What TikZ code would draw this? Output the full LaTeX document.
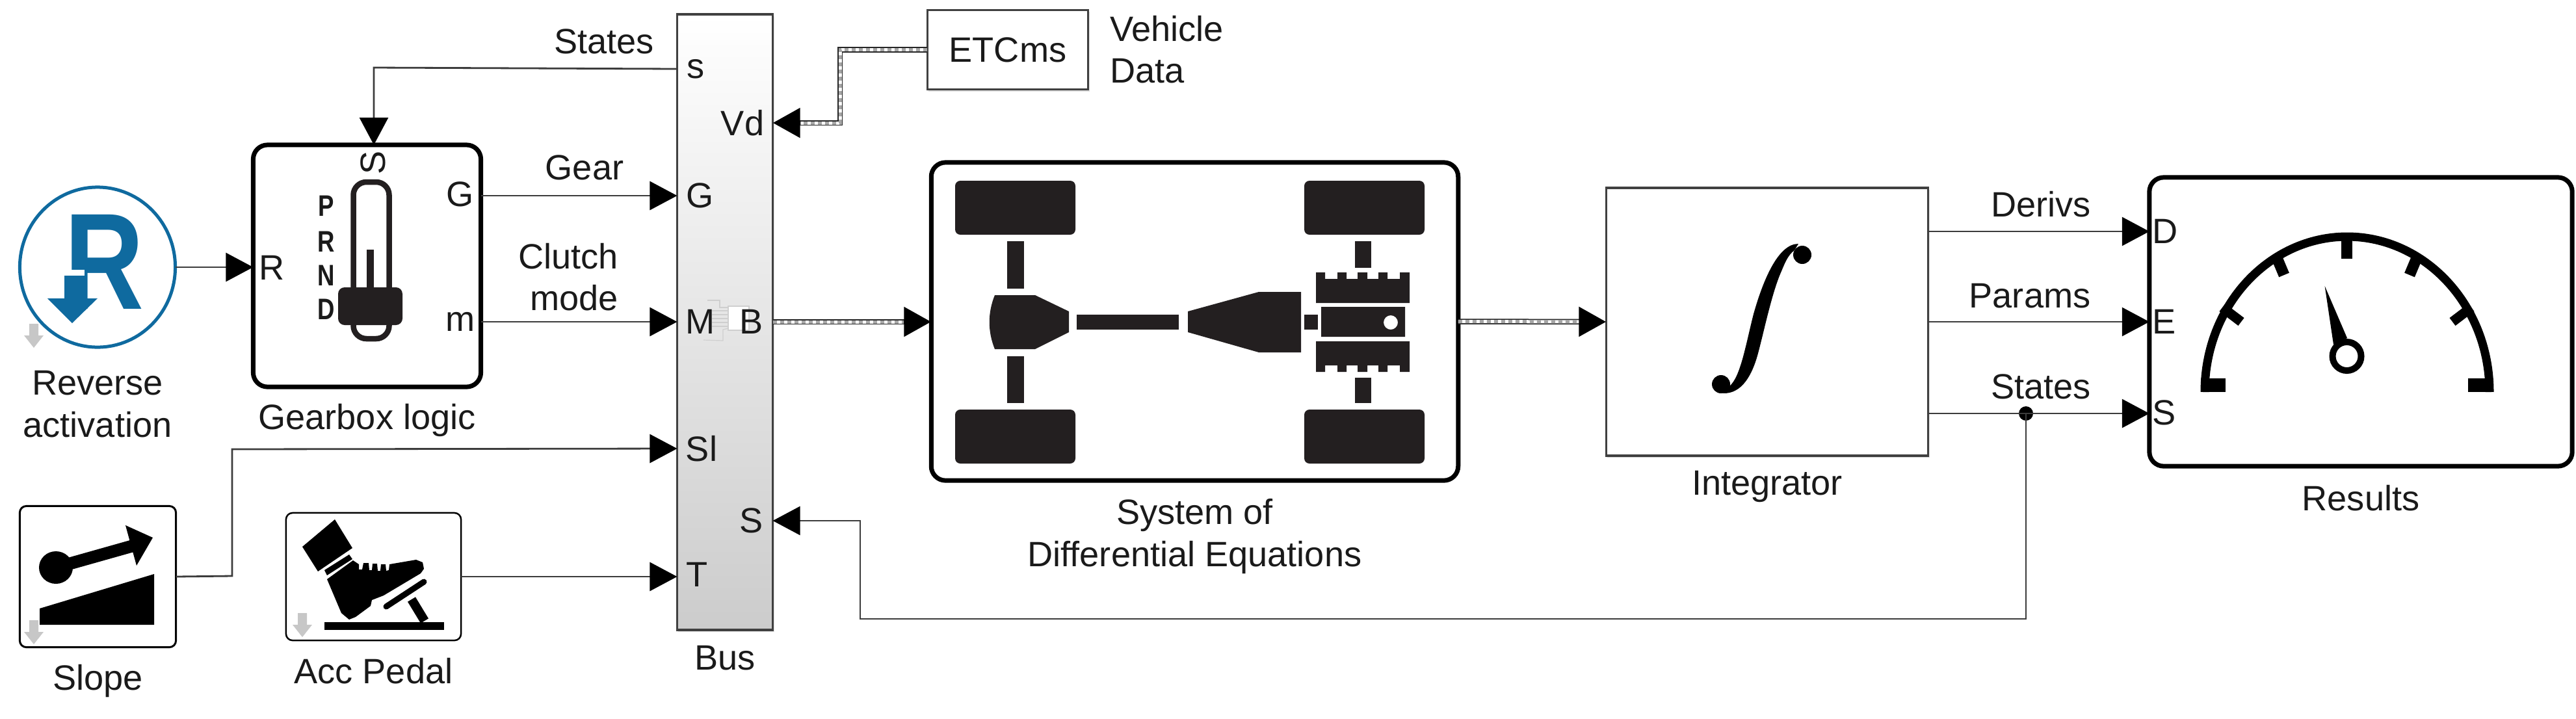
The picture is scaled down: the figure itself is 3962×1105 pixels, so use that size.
\documentclass[tikz,border=0pt]{standalone}
\usepackage{fontspec}
\setmainfont{Liberation Sans}
\usetikzlibrary{arrows.meta,positioning,shadows,shapes.geometric}
\definecolor{iconColor}{HTML}{231F20}
\definecolor{reverseColor}{HTML}{0F6A9F}
\definecolor{labelColor}{HTML}{1A1A1A}
\definecolor{wireColor}{HTML}{3C3C3C}
\definecolor{ghostColor}{HTML}{CFCFCF}

\begin{document}
\begin{tikzpicture}[%
    x=0.01cm,y=-0.01cm,>={Triangle[length=0.42cm,width=0.44cm,color=black]},align=center,
    every node/.style={font=\fontsize{15.4}{18.4}\selectfont,text=labelColor,inner sep=0pt,outer sep=0pt}]
    \tikzstyle{block}=[rectangle,draw=black,fill=white]
    % All block styles
    \tikzstyle{iconBlock}=[block,line width=0.07cm,rounded corners=0.22cm]
    \tikzstyle{smallBlock}=[block,line width=0.03cm,rounded corners=0.1cm]
    \tikzstyle{plainBlock}=[block,draw=black!75,line width=0.035cm,drop shadow={shadow xshift=0.02cm,shadow yshift=-0.03cm,opacity=0.25}]
    \tikzstyle{wire}=[draw=wireColor,line width=0.028cm,->]
    \tikzstyle{busWire}=[draw=black!85,line width=0.085cm,->,
      postaction={draw=white,line width=0.05cm,-,shorten >=0.42cm},
      postaction={draw=black!35,line width=0.05cm,-,shorten >=0.42cm,dash pattern=on 0.06cm off 0.05cm}]
    \tikzstyle{ghostArrow}=[fill=black!22]
    \useasboundingbox (0,0) rectangle (3962,1105);
    % All blocks
    \node (reverse) [ellipse,draw=reverseColor,fill=white,line width=0.05cm,minimum width=2.39cm,minimum height=2.46cm] at (150,411) {};
    \node (gearbox) [iconBlock,minimum width=3.5cm,minimum height=3.72cm] at (564.5,409) {};
    \node (slope) [smallBlock,minimum width=2.4cm,minimum height=2.17cm] at (150.5,887) {};
    \node (pedal) [smallBlock,line width=0.025cm,minimum width=2.69cm,minimum height=1.96cm] at (574.5,887) {};
    \node (bus) [plainBlock,top color=white,middle color=black!4,bottom color=black!20,minimum width=1.47cm,minimum height=9.46cm] at (1115,495.5) {};
    \node (vehicle) [plainBlock,minimum width=2.47cm,minimum height=1.22cm] at (1550,76.5) {ETCms};
    \node (system) [iconBlock,minimum width=8.1cm,minimum height=4.89cm] at (1837.5,494.5) {};
    \node (integrator) [plainBlock,minimum width=4.95cm,minimum height=4.12cm] at (2718,495) {};
    \node (results) [iconBlock,minimum width=6.5cm,minimum height=4.44cm] at (3631,495) {};
    % Block captions
    \node (reverseLabel) [below=0.36cm of reverse] {Reverse\\activation};
    \node (gearboxLabel) [below=0.26cm of gearbox] {Gearbox logic};
    \node (slopeLabel) [below=0.27cm of slope] {Slope};
    \node (pedalLabel) [below=0.27cm of pedal] {Acc Pedal};
    \node (busLabel) [below=0.24cm of bus] {Bus};
    \node (systemLabel) [below=0.28cm of system] {System of\\Differential Equations};
    \node (integratorLabel) [below=0.23cm of integrator] {Integrator};
    \node (resultsLabel) [below=0.29cm of results] {Results};
    \node (vehicleLabel) [align=left,anchor=west] at (1707,76) {Vehicle\\Data};
    % Reverse icon
    \node (reverseLetter) [text=reverseColor,xscale=0.8,font=\fontsize{60}{60}\selectfont\bfseries] at (160,403) {R};
    \fill[white] (95,415) rectangle (130,424);
    \fill[reverseColor] (99,424) -- (128,424) -- (128,459) -- (150,459) -- (111,497) -- (73,459) -- (99,459) -- cycle;
    % Shifter icon
    \draw[iconColor,line width=0.085cm,rounded corners=0.2cm,fill=white] (543.5,280) rectangle (598.5,521);
    \fill[iconColor] (564,384) rectangle (575,445);
    \fill[iconColor,rounded corners=0.1cm] (520,442) rectangle (619,500);
    \foreach \gearName/\gearY in {P/317,R/372,N/424,D/476}
      \node (shift\gearName) [xscale=0.8,font=\fontsize{13}{13}\selectfont\bfseries] at (502,\gearY) {\gearName};
    % Slope icon
    \fill[black] (86,873) ellipse (26 and 25);
    \draw[black,line width=0.19cm] (86,873) -- (203,840);
    \fill[black] (235,827) -- (193,808) -- (210,870) -- cycle;
    \fill[black] (61,936) -- (237,883) -- (237,961) -- (61,961) -- cycle;
    % Pedal icon
    \fill[black] (465,841) -- (515,799) -- (542,843) -- (489,879) -- cycle;
    \fill[black] (499,877) -- (537,853) -- (542,860) -- (503,885) -- cycle;
    \fill[black] (503,891) -- (543,862) -- (552,868) -- (552,876) -- (557,876) -- (559,866) -- (567,866) -- (568,877)
      -- (572,877) -- (573,867) -- (580,867) -- (581,878) -- (585,878) -- (586,868) -- (593,868) -- (594,878) -- (598,877)
      -- (599,868) -- (640,861) -- (650,865) -- (652,875) -- (647,882) -- (590,916) -- (572,923) -- (570,932)
      -- (547,949) -- (537,953) -- (525,943) -- cycle;
    \draw[black,line width=0.09cm,line cap=round] (594,933) -- (652,895);
    \draw[black,line width=0.14cm] (633,922) -- (653,955);
    \fill[black] (499,957) rectangle (683,969);
    % Ghost arrows
    \foreach \ghostX/\ghostY in {52/516,52/972,465/961}
      \fill[ghostArrow,shift={(\ghostX,\ghostY)}] (-7,-18) -- (7,-18) -- (7,0) -- (15,0) -- (0,19) -- (-15,0) -- (-7,0) -- cycle;
    % Bus ghost
    \draw[ghostColor,line width=0.012cm,fill=white] (1120,471) rectangle (1152,508);
    \draw[ghostColor,line width=0.012cm] (1088,462) -- (1107,462) -- (1107,473) -- (1120,473);
    \draw[ghostColor,line width=0.012cm] (1082,523) -- (1112,524) -- (1112,507) -- (1120,505);
    \foreach \ghostY in {478,484,490,496,502}
      \draw[ghostColor,line width=0.012cm] (1095,\ghostY) -- (1120,\ghostY);
    % System icon
    \foreach \wheelX in {1469,2006}
      \foreach \wheelY in {278,630}
        \fill[iconColor,rounded corners=0.08cm] (\wheelX,\wheelY) rectangle ++(185,83);
    \fill[iconColor] (1549,371) rectangle (1575,444);
    \fill[iconColor] (1549,548) rectangle (1575,620);
    \fill[iconColor] (1530,454) -- (1592,454) -- (1644,479) -- (1644,511) -- (1592,537) -- (1530,537) .. controls (1519,510) and (1519,481) .. (1530,454) -- cycle;
    \fill[iconColor] (1656,484) rectangle (1813,507);
    \fill[iconColor] (1827,479) -- (1936,449) -- (2001,449) -- (2001,542) -- (1936,542) -- (1827,511) -- cycle;
    \fill[iconColor] (2006,484) rectangle (2027,507);
    \fill[iconColor] (2084,371) rectangle (2109,412);
    \fill[iconColor] (2084,581) rectangle (2109,620);
    \fill[iconColor] (2024,419) -- (2038,419) -- (2038,429) -- (2057,429) -- (2057,419) -- (2071,419) -- (2071,429) -- (2088,429) -- (2088,419)
      -- (2103,419) -- (2103,429) -- (2120,429) -- (2120,419) -- (2134,419) -- (2134,429) -- (2153,429) -- (2153,419) -- (2168,419) -- (2168,466) -- (2024,466) -- cycle;
    \fill[iconColor] (2024,572) -- (2038,572) -- (2038,562) -- (2057,562) -- (2057,572) -- (2071,572) -- (2071,562) -- (2088,562) -- (2088,572)
      -- (2103,572) -- (2103,562) -- (2120,562) -- (2120,572) -- (2134,572) -- (2134,562) -- (2153,562) -- (2153,572) -- (2168,572) -- (2168,525) -- (2024,525) -- cycle;
    \fill[iconColor,even odd rule] (2032,472) rectangle (2161,518) (2139,496) circle (11);
    % Integral sign
    \fill[black] (2766,375) .. controls (2735,375) and (2712,430) .. (2697,483) .. controls (2685,530) and (2677,580) .. (2660,594)
      -- (2650,605) .. controls (2680,606) and (2695,575) .. (2703,547) .. controls (2712,515) and (2725,450) .. (2740,417)
      .. controls (2745,405) and (2750,392) .. (2760,385) -- cycle;
    \fill[black] (2772,392) circle (14);
    \fill[black] (2647,591) circle (14);
    % Gauge icon
    \draw[black,line width=0.13cm] (3391,603) .. controls (3391,470) and (3490,364) .. (3610,364) .. controls (3730,364) and (3829,470) .. (3829,603);
    \fill[black] (3385,582) rectangle (3423,603);
    \fill[black] (3796,582) rectangle (3835,603);
    \draw[black,line width=0.17cm] (3609.5,366) -- (3609.5,398);
    \draw[black,line width=0.17cm] (3500,392) -- (3513,423);
    \draw[black,line width=0.17cm] (3719,392) -- (3706,423);
    \draw[black,line width=0.15cm] (3418,473) -- (3447,495);
    \draw[black,line width=0.15cm] (3801,473) -- (3772,495);
    \fill[black] (3575.6,440) -- (3589,530) -- (3610,520) -- cycle;
    \draw[black,line width=0.1cm,fill=white] (3609.5,548) circle (22);
    % Port labels
    \node (gearboxR) at (418,412) {R};
    \node (gearboxG) at (708,299) {G};
    \node (gearboxM) at (708,495) {m};
    \node (gearboxS) [rotate=90] at (574,250) {S};
    \node (busInS) at (1070,106) {s};
    \node (busVd) at (1142,189) {Vd};
    \node (busG) at (1077,301) {G};
    \node (busM) at (1077,495) {M};
    \node (busB) at (1156,495) {B};
    \node (busSl) at (1079,690) {Sl};
    \node (busS) at (1156,801) {S};
    \node (busT) at (1072,884) {T};
    \node (resultsD) at (3330,356) {D};
    \node (resultsE) at (3329,495) {E};
    \node (resultsS) at (3329,635) {S};
    % Wire labels
    \node (statesIn) at (929,64) {States};
    \node (gearWire) at (899,258) {Gear};
    \node (clutchWire) [align=right,anchor=east] at (951,426) {Clutch\\mode};
    \node (derivsWire) at (3139,314) {Derivs};
    \node (paramsWire) at (3122,455) {Params};
    \node (statesOut) at (3139,595) {States};
    % Edges
    \coordinate (branchS) at (3116,636);
    \fill[black] (branchS) circle (11);
    \draw [wire] (bus.west |- busInS) -- (575,104) -- (gearbox.north -| 575,0);
    \draw [wire] (reverse.east) -- (gearbox.west |- reverse);
    \draw [wire] (gearbox.east |- busG) -- (bus.west |- busG);
    \draw [wire] (gearbox.east |- busM) -- (bus.west |- busM);
    \draw [wire] (slope.east) -- (357,886) -- (357,691) -- (bus.west |- busSl);
    \draw [wire] (pedal.east) -- (bus.west |- pedal);
    \draw [busWire] (vehicle.west) -- (1292,76.5) -- (1292,189) -- (bus.east |- busVd);
    \draw [busWire] (bus.east |- busB) -- (system.west |- busB);
    \draw [busWire] (system.east) -- (integrator.west);
    \draw [wire] (integrator.east |- resultsD) -- (results.west |- resultsD);
    \draw [wire] (integrator.east |- resultsE) -- (results.west |- resultsE);
    \draw [wire] (integrator.east |- branchS) -- (results.west |- branchS);
    \draw [wire] (branchS) -- (3116,952) -- (1323,952) -- (1323,801) -- (bus.east |- busS);
  \end{tikzpicture}
\end{document}
